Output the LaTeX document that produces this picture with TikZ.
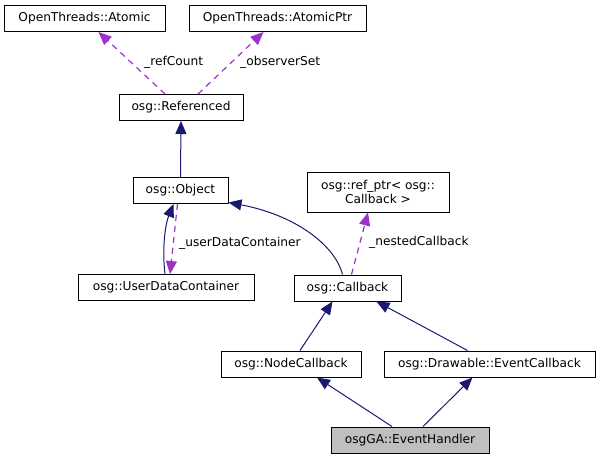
\documentclass[tikz,border=0pt]{standalone}
\usepackage{fontspec}
\setmainfont{DejaVu Sans}
\usetikzlibrary{arrows.meta}
\definecolor{edgeblue}{HTML}{191970}
\definecolor{edgepurple}{HTML}{9A32CD}
\definecolor{focusgray}{HTML}{BFBFBF}
\tikzset{
	classnode/.style = {
		align=center,
		inner sep=0pt,
		text centered,
		font=\fontsize{12.2}{14.5}\selectfont,
		rectangle,
		draw=black,
		fill=white,
		line width=1pt,
		minimum height=26pt
	},
	classnode_focus/.style = {
		classnode,
		fill=focusgray
	},
	edgelabel/.style = {
		inner sep=0pt,
		anchor=west,
		font=\fontsize{12.2}{14.5}\selectfont
	},
	edge_inherit/.style = {
		draw=edgeblue,
		line width=1pt,
		-{Triangle[length=13pt,width=11pt]},
		edgeblue
	},
	edge_member/.style = {
		draw=edgepurple,
		line width=1.2pt,
		dash pattern=on 6pt off 5pt,
		-{Triangle[length=13pt,width=11pt]},
		edgepurple
	},
}
\begin{document}
\begin{tikzpicture}[x=1pt,y=-1pt]
\useasboundingbox (0,0) rectangle (599,459);
% classes
\node [classnode, minimum width=161pt] (atomic) at (84.5,18.5) {OpenThreads::Atomic};
\node [classnode, minimum width=177pt] (atomicptr) at (277.5,18.5) {OpenThreads::AtomicPtr};
\node [classnode, minimum width=124pt] (referenced) at (181,107.5) {osg::Referenced};
\node [classnode, minimum width=95pt] (object) at (180.5,190.5) {osg::Object};
\node [classnode, minimum width=142pt, minimum height=40pt] (refptr) at (378,192) {osg::ref\_ptr< osg::\\Callback >};
\node [classnode, minimum width=176pt] (udc) at (166,287.5) {osg::UserDataContainer};
\node [classnode, minimum width=107pt] (callback) at (347.5,288) {osg::Callback};
\node [classnode, minimum width=140pt] (nodecb) at (291,364) {osg::NodeCallback};
\node [classnode, minimum width=211pt] (drawcb) at (489.5,364) {osg::Drawable::EventCallback};
\node [classnode_focus, minimum width=158pt] (handler) at (410,440) {osgGA::EventHandler};

% members
\draw [edge_member] ([xshift=-16pt]referenced.north) -- ([xshift=14pt]atomic.south);
\draw [edge_member] ([xshift=17pt]referenced.north) -- ([xshift=-14pt]atomicptr.south);
\draw [edge_member] ([xshift=-3pt]object.south) -- ([xshift=4pt]udc.north);
\draw [edge_member] ([xshift=4pt]callback.north) -- ([xshift=-10pt]refptr.south);
\node [edgelabel] (lbl_refcount) at (144,62) {\_refCount};
\node [edgelabel] (lbl_observer) at (240,62) {\_observerSet};
\node [edgelabel] (lbl_userdata) at (179,243) {\_userDataContainer};
\node [edgelabel] (lbl_nested) at (369,242) {\_nestedCallback};

% inheritance
\draw [edge_inherit] (object.north) -- (referenced.south);
\draw [edge_inherit] ([xshift=-1pt]udc.north) .. controls (162,250) and (165,225) .. ([xshift=-7pt]object.south);
\draw [edge_inherit] ([xshift=-5pt]callback.north) .. controls (335,245) and (295,215) .. (object.-14);
\draw [edge_inherit] ([xshift=9pt]nodecb.north) -- ([xshift=-15pt]callback.south);
\draw [edge_inherit] ([xshift=-22pt]drawcb.north) -- ([xshift=29pt]callback.south);
\draw [edge_inherit] ([xshift=-18pt]handler.north) -- ([xshift=26pt]nodecb.south);
\draw [edge_inherit] ([xshift=13pt]handler.north) -- ([xshift=-17pt]drawcb.south);
\end{tikzpicture}
\end{document}
